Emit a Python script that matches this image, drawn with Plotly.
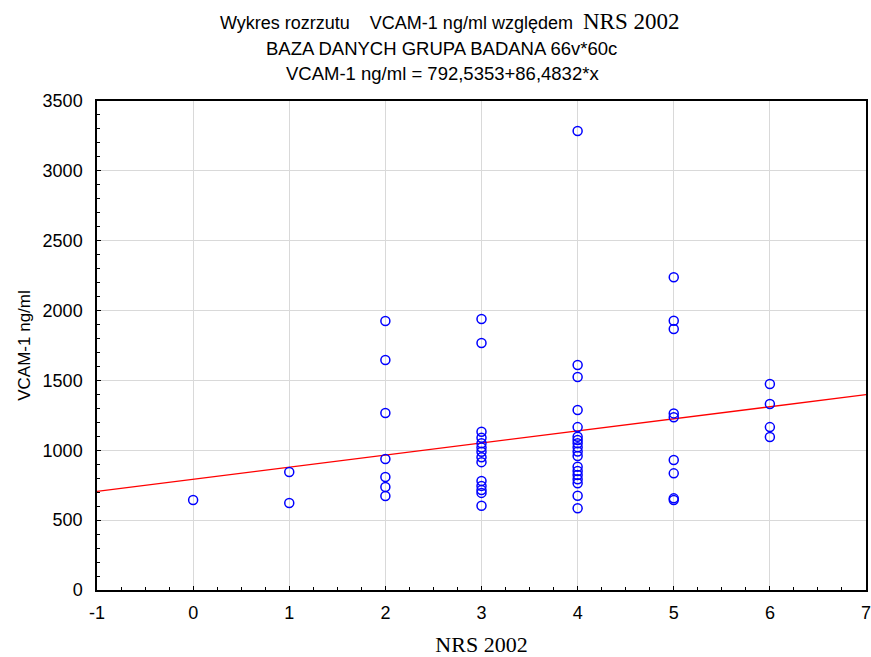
import plotly.graph_objects as go

# Data (NRS 2002 score vs VCAM-1 ng/ml)
y_nrs0 = [644]
y_nrs1 = [845, 623]
y_nrs2 = [1925, 1646, 1267, 938, 809, 737, 673]
y_nrs3 = [1940, 1768, 1133, 1090, 1050, 1020, 990, 950, 915, 780, 745, 715, 695, 603]
y_nrs4 = [3285, 1610, 1525, 1288, 1166, 1097, 1074, 1050, 1022, 991, 959, 883, 852, 823, 793, 764, 675, 585]
y_nrs5 = [2238, 1927, 1868, 1264, 1236, 930, 835, 656, 644]
y_nrs6 = [1474, 1331, 1166, 1095]

groups = [(0, y_nrs0), (1, y_nrs1), (2, y_nrs2), (3, y_nrs3), (4, y_nrs4), (5, y_nrs5), (6, y_nrs6)]
xs, ys = [], []
for score, vals in groups:
    xs += [score] * len(vals)
    ys += vals

intercept = 792.5353
slope = 86.4832
line_x = [-1, 7]
line_y = [intercept + slope * v for v in line_x]

x_ticks = [-1, 0, 1, 2, 3, 4, 5, 6, 7]
x_tick_text = ["-1", "0", "1", "2", "3", "4", "5", "6", "7"]
y_ticks = [0, 500, 1000, 1500, 2000, 2500, 3000, 3500]

fig = go.Figure()
fig.add_trace(go.Scatter(x=line_x, y=line_y, mode="lines",
                         line=dict(color="#ff0000", width=1.3), showlegend=False))
fig.add_trace(go.Scatter(x=xs, y=ys, mode="markers",
                         marker=dict(symbol="circle-open", size=9, color="#0000ff",
                                     line=dict(width=1.5, color="#0000ff")),
                         showlegend=False))

SANS = "Arial, Liberation Sans"
SERIF = "Liberation Serif, Times New Roman"
axis_font = dict(family=SANS, size=18, color="#000000")
L, R, T, B = 97, 5, 101, 67
fig.update_layout(
    width=871, height=657,
    margin=dict(l=L, r=R, t=T, b=B, autoexpand=False),
    paper_bgcolor="white", plot_bgcolor="white",
    font=axis_font,
    xaxis=dict(range=[-1, 7], tickvals=x_ticks, ticktext=x_tick_text, ticks="inside", ticklen=4,
               tickcolor="black", showline=True, linecolor="black", linewidth=1.5,
               mirror=True, showgrid=True, gridcolor="#d9d9d9", gridwidth=1,
               zeroline=False, tickfont=axis_font, ticklabelstandoff=6, automargin=False,
               ticklabeloverflow="allow",
               minor=dict(dtick=0.25, ticks="inside", ticklen=3, tickcolor="black", showgrid=False),
               title=dict(text="NRS 2002", font=dict(family=SERIF, size=22, color="black"),
                          standoff=15)),
    yaxis=dict(range=[0, 3500], tickvals=y_ticks, ticks="inside", ticklen=4,
               tickcolor="black", showline=True, linecolor="black", linewidth=1.5,
               mirror=True, showgrid=True, gridcolor="#d9d9d9", gridwidth=1,
               zeroline=False, tickfont=axis_font, ticklabelstandoff=9, automargin=False,
               ticklabeloverflow="allow",
               minor=dict(dtick=100, ticks="inside", ticklen=3, tickcolor="black", showgrid=False),
               title=dict(text="VCAM-1 ng/ml", font=dict(family=SANS, size=17, color="black"),
                          standoff=8)),
)

title_lines = [
    ("Wykres rozrzutu    VCAM-1 ng/ml względem  <span style='font-family:Liberation Serif, Times New Roman; font-size:23px'>NRS 2002</span>", 22, 449, 18),
    ("BAZA DANYCH GRUPA BADANA 66v*60c", 48, 441, 18.5),
    ("VCAM-1 ng/ml = 792,5353+86,4832*x", 73, 442, 18.5),
]
pw = 871 - L - R
ph = 657 - T - B
for txt, ypx, xpx, fs in title_lines:
    fig.add_annotation(text=txt, x=(xpx - L) / pw, y=(657 - B - ypx) / ph,
                       xref="paper", yref="paper", xanchor="center", yanchor="middle",
                       showarrow=False, font=dict(family=SANS, size=fs, color="black"))

fig.write_html("out.html")
